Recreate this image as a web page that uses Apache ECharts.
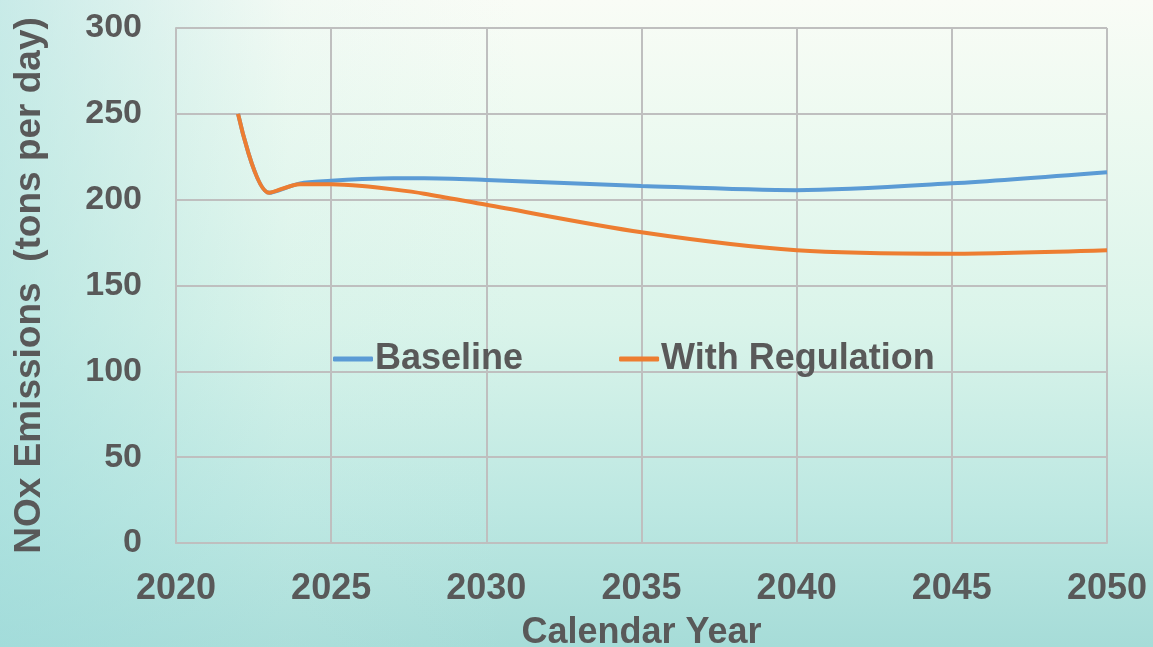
<!DOCTYPE html>
<html>
<head>
<meta charset="utf-8">
<script src="https://cdn.jsdelivr.net/npm/echarts@6/dist/echarts.min.js"></script>
<style>
html,body{margin:0;padding:0;}
body{width:1153px;height:647px;overflow:hidden;
background:
 linear-gradient(90deg, rgba(160,220,220,0.55) 0%, rgba(200,236,232,0.15) 25%, rgba(255,255,255,0) 45%),
 linear-gradient(180deg, #f9fcf6 0%, #eefaf1 18%, #daf4ea 50%, #bde8e2 78%, #a6dcd8 100%);}
#chart{width:1153px;height:647px;}
</style>
</head>
<body>
<div id="chart"></div>
<script>
const years = [2022, 2023, 2024, 2025, 2026, 2027, 2028, 2030, 2035, 2040, 2045, 2050];
const baseline = [250, 204, 209.5, 211, 212, 212.5, 212.5, 211.5, 208, 205.5, 209.5, 216];
const withRegulation = [250, 204, 209, 209, 208, 206, 203.5, 197, 181, 170.5, 168.5, 170.5];
const xTicks = [2020, 2025, 2030, 2035, 2040, 2045, 2050];
const yTicks = [0, 50, 100, 150, 200, 250, 300];

const pairs = (vals) => years.map((y, i) => [y, vals[i]]);
const textColor = '#595959';
const font = 'Liberation Sans, Arial, sans-serif';

const chart = echarts.init(document.getElementById('chart'), null, {renderer: 'canvas'});
chart.setOption({
  backgroundColor: 'transparent',
  animation: false,
  textStyle: {fontFamily: font},
  grid: {left: 176, right: 46, top: 28, bottom: 104, outerBoundsMode: 'none', containLabel: false},
  legend: {
    left: 328, top: 336,
    itemWidth: 40, itemHeight: 5, itemGap: 96,
    icon: 'roundRect',
    textStyle: {fontSize: 36, fontWeight: 'bold', color: textColor, fontFamily: font, padding: [0, 0, 0, -3]},
    data: ['Baseline', 'With Regulation']
  },
  xAxis: {
    type: 'value', min: xTicks[0], max: xTicks[xTicks.length - 1], interval: 5,
    name: 'Calendar Year', nameLocation: 'middle', nameGap: 72,
    nameTextStyle: {fontSize: 36, fontWeight: 'bold', color: textColor},
    axisLine: {show: true, lineStyle: {color: '#bfbfbf', width: 2}},
    axisTick: {show: false},
    axisLabel: {fontSize: 36, fontWeight: 'bold', color: textColor, margin: 28, formatter: (v) => String(v)},
    splitLine: {show: true, lineStyle: {color: '#bfbfbf', width: 2}}
  },
  yAxis: {
    type: 'value', min: yTicks[0], max: yTicks[yTicks.length - 1], interval: 50,
    name: 'NOx Emissions  (tons per day)', nameLocation: 'middle', nameGap: 128,
    nameTextStyle: {fontSize: 37, fontWeight: 'bold', color: textColor},
    axisLine: {show: true, lineStyle: {color: '#bfbfbf', width: 2}},
    axisTick: {show: false},
    axisLabel: {fontSize: 34, fontWeight: 'bold', color: textColor, margin: 34},
    splitLine: {show: true, lineStyle: {color: '#bfbfbf', width: 2}}
  },
  series: [
    {name: 'Baseline', type: 'line', data: pairs(baseline), smooth: 0.3, symbol: 'none',
     lineStyle: {color: '#5b9bd5', width: 4}, itemStyle: {color: '#5b9bd5'}},
    {name: 'With Regulation', type: 'line', data: pairs(withRegulation), smooth: 0.3, symbol: 'none',
     lineStyle: {color: '#ed7d31', width: 4}, itemStyle: {color: '#ed7d31'}}
  ]
});
</script>
</body>
</html>
